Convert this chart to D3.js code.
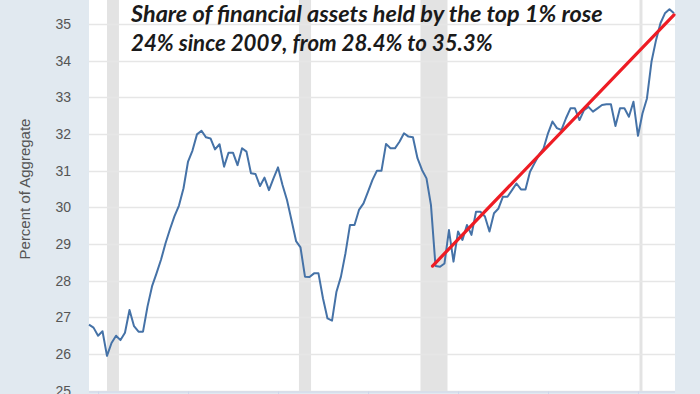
<!DOCTYPE html>
<html>
<head>
<meta charset="utf-8">
<script src="https://cdn.jsdelivr.net/npm/d3@7"></script>
<style>
  html, body { margin: 0; padding: 0; background: #e1e9f0; }
  svg { display: block; }
</style>
</head>
<body>
<svg id="chart" width="700" height="394"></svg>
<script>
// ---- Data (quarterly, first quarter 1989Q3) ----
const firstQuarter = "1989-07-01";
const shareTop1 = [
  26.80, 26.72, 26.50, 26.62, 25.95, 26.30, 26.50, 26.38, 26.58, 27.20,
  26.76, 26.61, 26.61, 27.30, 27.85, 28.20, 28.57, 29.02, 29.41, 29.76,
  30.05, 30.52, 31.25, 31.55, 31.99, 32.09, 31.91, 31.88, 31.58, 31.72,
  31.11, 31.49, 31.49, 31.15, 31.61, 31.52, 30.93, 30.91, 30.58, 30.81,
  30.47, 30.79, 31.09, 30.61, 30.20, 29.65, 29.08, 28.91, 28.11, 28.10,
  28.20, 28.20, 27.52, 26.97, 26.91, 27.70, 28.11, 28.75, 29.52, 29.52,
  29.93, 30.11, 30.43, 30.75, 31.00, 31.00, 31.73, 31.61, 31.61, 31.79,
  32.02, 31.93, 31.91, 31.34, 31.02, 30.79, 30.06, 28.40, 28.38, 28.47,
  29.38, 28.52, 29.34, 29.11, 29.52, 29.25, 29.88, 29.88, 29.75, 29.34,
  29.84, 29.97, 30.29, 30.29, 30.47, 30.65, 30.49, 30.49, 30.97, 31.20,
  31.43, 31.60, 32.02, 32.34, 32.16, 32.11, 32.43, 32.70, 32.70, 32.38,
  32.65, 32.74, 32.61, 32.70, 32.79, 32.81, 32.81, 32.22, 32.70, 32.70,
  32.47, 32.88, 31.95, 32.56, 32.97, 33.97, 34.56, 35.02, 35.29, 35.40,
  35.29
];
const recessionStarts = ["1990-07-01", "2001-03-01", "2007-12-01", "2020-02-01"];
const recessionEnds   = ["1991-03-01", "2001-11-01", "2009-06-01", "2020-04-01"];
const yTicks = [25, 26, 27, 28, 29, 30, 31, 32, 33, 34, 35];
const xTickYears = [1990, 1995, 2000, 2005, 2010, 2015, 2020];
const trendDates = ["2008-08-01", "2022-01-01"];
const trendValues = [28.4, 35.25];
const yAxisTitle = "Percent of Aggregate";
const noteLines = [
  "Share of financial assets held by the top 1% rose",
  "24% since 2009, from 28.4% to 35.3%"
];

// ---- Setup ----
const parse = d3.utcParse("%Y-%m-%d");
const start = parse(firstQuarter);
const series = shareTop1.map((v, i) => ({ date: d3.utcMonth.offset(start, 3 * i), value: v }));

const svg = d3.select("#chart");
const W = 700, H = 394;
const plot = { left: 89, right: 674, top: 0, bottom: 391.5 };

const x = d3.scaleUtc()
  .domain([start, series[series.length - 1].date])
  .range([plot.left, plot.right]);
const y = d3.scaleLinear().domain([25, 35]).range([390.7, 24]);

// background
svg.append("rect").attr("x", 0).attr("y", 0).attr("width", W).attr("height", H).attr("fill", "#e1e9f0");
svg.append("rect")
  .attr("x", plot.left).attr("y", plot.top)
  .attr("width", plot.right + 1 - plot.left).attr("height", plot.bottom - plot.top)
  .attr("fill", "#ffffff");

// recession shading
const rec = recessionStarts.map((s, i) => ({ s: parse(s), e: parse(recessionEnds[i]) }));
svg.append("g").selectAll("rect").data(rec).join("rect")
  .attr("x", d => x(d.s))
  .attr("width", d => Math.max(2, x(d.e) - x(d.s)))
  .attr("y", plot.top).attr("height", plot.bottom - plot.top)
  .attr("fill", "#e3e3e3");

// horizontal grid
svg.append("g").selectAll("line").data(yTicks).join("line")
  .attr("x1", plot.left).attr("x2", plot.right + 1)
  .attr("y1", d => Math.round(y(d)) + 0.5).attr("y2", d => Math.round(y(d)) + 0.5)
  .attr("stroke", "#e6e6e6").attr("stroke-width", 1.5);

// x axis line and ticks (mostly cropped)
const xAxis = d3.axisBottom(x)
  .tickValues(xTickYears.map(yr => new Date(Date.UTC(yr, 0, 1))))
  .tickSize(6).tickFormat("");
const gx = svg.append("g").attr("transform", `translate(0,${plot.bottom})`).call(xAxis);
gx.select(".domain").attr("stroke", "#ccd6eb").attr("d", `M${plot.left},0.5H${plot.right + 1}`);
gx.selectAll(".tick line").attr("stroke", "#ccd6eb");

// y axis labels
const yAxis = d3.axisLeft(y).tickValues(yTicks).tickSize(0).tickPadding(0).tickFormat(d3.format("d"));
const gy = svg.append("g").attr("transform", "translate(71,0)").call(yAxis);
gy.select(".domain").remove();
gy.selectAll("text")
  .attr("font-family", "'Liberation Sans', Arial, sans-serif")
  .attr("font-size", 14).attr("fill", "#555555");

// y axis title
svg.append("text")
  .attr("transform", "translate(30,189) rotate(-90)")
  .attr("text-anchor", "middle")
  .attr("font-family", "'Liberation Sans', Arial, sans-serif")
  .attr("font-size", 15).attr("fill", "#555555")
  .text(yAxisTitle);

// data line
const line = d3.line().x(d => x(d.date)).y(d => y(d.value));
svg.append("path").datum(series)
  .attr("d", line).attr("fill", "none")
  .attr("stroke", "#4572a7").attr("stroke-width", 2).attr("stroke-linejoin", "round");

// trend line
const trend = trendDates.map((d, i) => ({ date: parse(d), value: trendValues[i] }));
svg.append("path").datum(trend)
  .attr("d", line).attr("fill", "none")
  .attr("stroke", "#ee1c24").attr("stroke-width", 3.2).attr("stroke-linecap", "round");

// annotation
const noteWidths = [472, 362];
const noteBase = [22, 51];
noteLines.forEach((t, i) => {
  const tx = svg.append("text")
    .attr("x", 131).attr("y", noteBase[i])
    .attr("font-family", "Lato, 'Open Sans', sans-serif")
    .attr("font-style", "italic").attr("font-weight", 700)
    .attr("font-size", 21).attr("fill", "#1a1a1a")
    .text(t);
  const w = tx.node().getComputedTextLength();
  tx.attr("font-size", 21 * noteWidths[i] / w);
});
</script>
</body>
</html>
